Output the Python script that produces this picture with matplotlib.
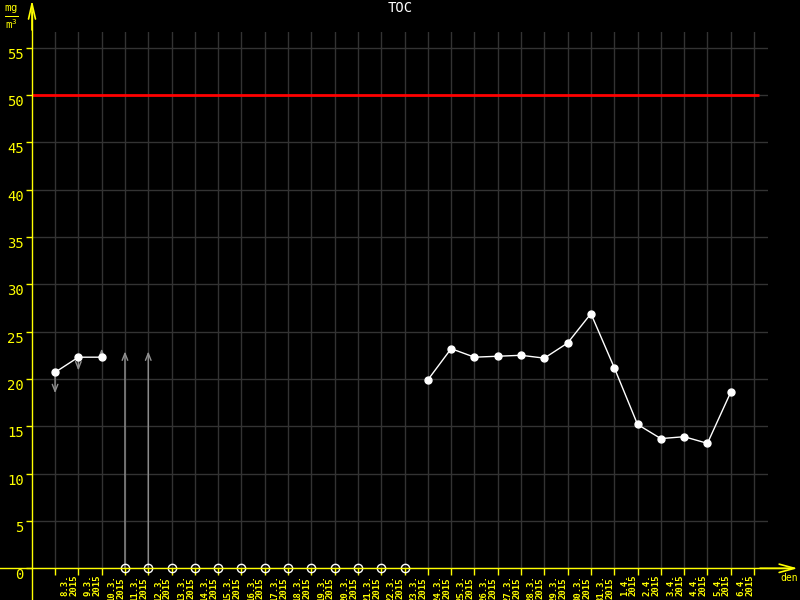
import numpy as np
import matplotlib
matplotlib.use('Agg')
import matplotlib.pyplot as plt

plt.rcParams['font.family'] = ['DejaVu Sans Mono']

# data
days = ['8.3.', '9.3.', '10.3.', '11.3.', '12.3.', '13.3.', '14.3.', '15.3.', '16.3.', '17.3.',
        '18.3.', '19.3.', '20.3.', '21.3.', '22.3.', '23.3.', '24.3.', '25.3.', '26.3.', '27.3.',
        '28.3.', '29.3.', '30.3.', '31.3.', '1.4.', '2.4.', '3.4.', '4.4.', '5.4.', '6.4.']
year = '2015'
toc = [20.7, 22.3, 22.3,
       None, None, None, None, None, None, None, None, None, None, None, None, None,
       19.9, 23.2, 22.3, 22.4, 22.5, 22.2, 23.8, 26.9, 21.2, 15.2, 13.7, 13.9, 13.2, 18.6]
limit = 50
# range arrows (day index, from, to)
arrow_day = [0, 1, 2, 3, 4]
arrow_from = [20.7, 22.3, 22.3, 0, 0]
arrow_to = [18.5, 20.9, 23.2, 22.9, 22.9]
y_ticks = [0, 5, 10, 15, 20, 25, 30, 35, 40, 45, 50, 55]

yellow = '#ffff00'
grid_c = '#333333'

fig = plt.figure(figsize=(8, 6), dpi=100, facecolor='black')
ax = fig.add_axes([32 / 800, (600 - 568.3) / 600, (768 - 32) / 800, (568.3 - 32) / 600])
ax.set_facecolor('black')

x = np.arange(len(days))
y = np.array([np.nan if v is None else v for v in toc], dtype=float)
missing = x[np.isnan(y)]

ax.set_xlim(-0.99, 30.6)
ax.set_ylim(0, 56.65)

ax.set_xticks(np.arange(len(days) + 1))
ax.set_xticklabels([])
ax.set_yticks(y_ticks)
ax.set_yticklabels([str(t) for t in y_ticks], color=yellow, fontsize=10)
for lab in ax.get_yticklabels():
    lab.set_verticalalignment('top')
ax.tick_params(axis='y', colors=yellow, length=4, width=1, pad=2)
ax.tick_params(axis='x', colors=yellow, length=5, width=1)
ax.grid(True, color=grid_c, lw=1, zorder=0)
for s in ax.spines.values():
    s.set_visible(False)

# limit
ax.hlines(limit, -0.99, 30.2, color='#ff0000', lw=2, zorder=3)

# range arrows
for d, a, b in zip(arrow_day, arrow_from, arrow_to):
    ax.annotate('', xy=(d, b), xytext=(d, a),
                arrowprops=dict(arrowstyle='->,head_length=0.5,head_width=0.2',
                                color='#909090', lw=1, shrinkA=0, shrinkB=0), zorder=2)

# data
ax.plot(x, y, color='white', lw=1, marker='o', markersize=5, zorder=5)
ax.plot(missing, np.zeros(len(missing)), ls='none', marker='o', markersize=6,
        markerfacecolor='none', markeredgecolor='white', mew=1, zorder=6, clip_on=False)

# x labels
for i, d in enumerate(days):
    ax.text(i + 0.62, -0.012, d + '\n' + year, transform=ax.get_xaxis_transform(),
            rotation=90, ha='center', va='top', color=yellow, fontsize=6.5,
            fontweight='bold', linespacing=1.0)

# axis lines with arrows
ax_y = 32 / 800
ax_x = (600 - 568.3) / 600
fig.add_artist(plt.Line2D([ax_y, ax_y], [0, 0.98], color=yellow, lw=1))
ax.annotate('', xy=(ax_y, 1.0), xytext=(ax_y, 0.95), xycoords='figure fraction',
            arrowprops=dict(arrowstyle='->,head_length=1.1,head_width=0.25',
                            color=yellow, lw=1.2, shrinkA=0, shrinkB=0))
fig.add_artist(plt.Line2D([0, 0.985], [ax_x, ax_x], color=yellow, lw=1))
ax.annotate('', xy=(0.997, ax_x), xytext=(0.95, ax_x), xycoords='figure fraction',
            arrowprops=dict(arrowstyle='->,head_length=1.1,head_width=0.3',
                            color=yellow, lw=1.2, shrinkA=0, shrinkB=0))

fig.text(0.5, 0.987, 'TOC', color='white', fontsize=10, ha='center', va='center')
fig.text(0.997, 0.036, 'den', color=yellow, fontsize=7, ha='right', va='center')
fig.text(0.014, 0.972, r'$\frac{\mathregular{mg}}{\mathregular{m^3}}$', color=yellow,
         fontsize=11, ha='center', va='center')

fig.savefig('out.png', dpi=100, facecolor='black')
